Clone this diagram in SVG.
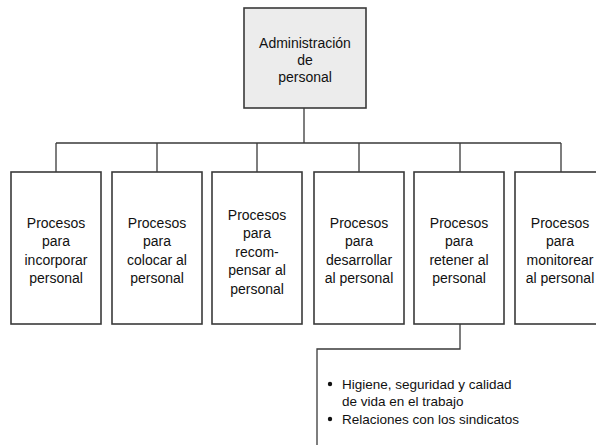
<svg xmlns="http://www.w3.org/2000/svg" width="596" height="445" viewBox="0 0 596 445">
<style>
.box{fill:#fff;stroke:#3a3a3a;stroke-width:1.6}
.top{fill:#ececec;stroke:#3a3a3a;stroke-width:1.6}
.ln{fill:none;stroke:#3a3a3a;stroke-width:1.3}
text{font-family:"Liberation Sans",Arial,sans-serif;font-size:14px;fill:#111;text-anchor:middle}
.b{text-anchor:start;font-size:13.5px}
</style>
<rect width="596" height="445" fill="#fff"/>
<g id="connectors">
<path class="ln" d="M304 108V143M56 143H561M56 143V172M157 143V172M257 143V172M359 143V172M460 143V172M561 143V172"/>
<path class="ln" d="M460 324V349H317V445"/>
</g>
<g id="admin">
<rect class="top" x="244" y="8" width="122" height="100"/>
<text x="305" y="48">Administración</text>
<text x="305" y="65">de</text>
<text x="305" y="82">personal</text>
</g>
<g id="incorporar">
<rect class="box" x="11" y="172" width="90" height="152"/>
<text x="56" y="228">Procesos</text><text x="56" y="246">para</text><text x="56" y="265">incorporar</text><text x="56" y="283">personal</text>
</g>
<g id="colocar">
<rect class="box" x="112" y="172" width="90" height="152"/>
<text x="157" y="228">Procesos</text><text x="157" y="246">para</text><text x="157" y="265">colocar al</text><text x="157" y="283">personal</text>
</g>
<g id="recompensar">
<rect class="box" x="212" y="172" width="90" height="152"/>
<text x="257" y="220">Procesos</text><text x="257" y="238">para</text><text x="257" y="257">recom-</text><text x="257" y="275">pensar al</text><text x="257" y="294">personal</text>
</g>
<g id="desarrollar">
<rect class="box" x="314" y="172" width="90" height="152"/>
<text x="359" y="228">Procesos</text><text x="359" y="246">para</text><text x="359" y="265">desarrollar</text><text x="359" y="283">al personal</text>
</g>
<g id="retener">
<rect class="box" x="414" y="172" width="90" height="152"/>
<text x="459" y="228">Procesos</text><text x="459" y="246">para</text><text x="459" y="265">retener al</text><text x="459" y="283">personal</text>
</g>
<g id="monitorear">
<rect class="box" x="515" y="172" width="90" height="152"/>
<text x="560" y="228">Procesos</text><text x="560" y="246">para</text><text x="560" y="265">monitorear</text><text x="560" y="283">al personal</text>
</g>
<g id="retener-detalle">
<circle cx="330" cy="384" r="2.2" fill="#111"/>
<circle cx="330" cy="419" r="2.2" fill="#111"/>
<text class="b" x="342" y="389">Higiene, seguridad y calidad</text>
<text class="b" x="342" y="406">de vida en el trabajo</text>
<text class="b" x="342" y="424">Relaciones con los sindicatos</text>
</g>
</svg>
